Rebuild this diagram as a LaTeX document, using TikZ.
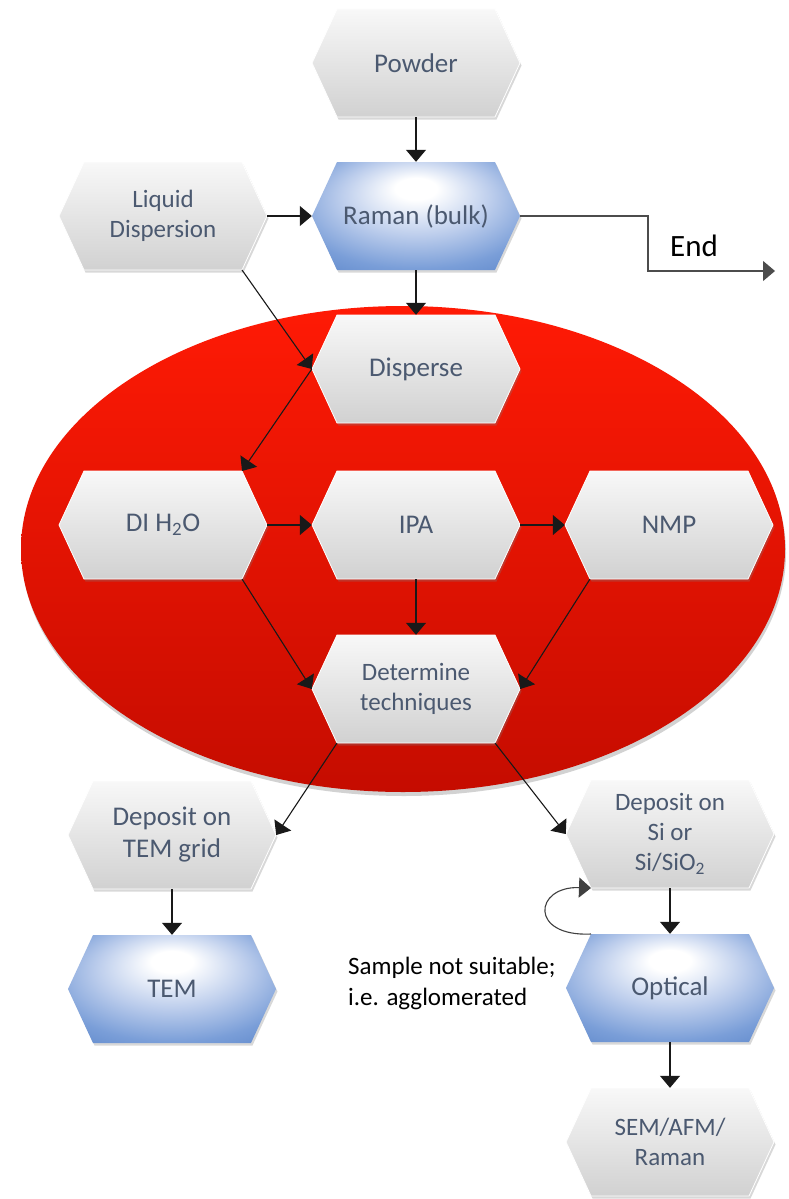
\documentclass[tikz,border=0pt]{standalone}
\usepackage{fontspec}
\setmainfont{Carlito}
\usetikzlibrary{arrows.meta,shadows,calc}

\definecolor{cGreyTop}{HTML}{F8F8F8}
\definecolor{cGreyBot}{HTML}{D1D1D1}
\definecolor{cBlue}{HTML}{5480C6}
\definecolor{cBlueMid}{HTML}{7A9ED8}
\definecolor{cBlueLight}{HTML}{BCCDEC}
\definecolor{cText}{HTML}{4B5970}
\definecolor{cRedTop}{HTML}{FF1A05}
\definecolor{cRedBot}{HTML}{C50C00}

% light spot near the top centre of the blue hexagons
\pgfdeclareradialshading{bluehex}{\pgfpoint{0bp}{14bp}}{%
  color(0bp)=(white); color(5bp)=(white); color(18bp)=(cBlueLight);
  color(30bp)=(cBlueMid); color(42bp)=(cBlue); color(50bp)=(cBlue)}

\tikzset{
  hexgrey/.style={top color=cGreyTop, bottom color=cGreyBot, draw=white, line width=0.8pt,
    drop shadow={opacity=0.3, shadow xshift=1.5pt, shadow yshift=-2.5pt}},
  hexblue/.style={shade, shading=bluehex,
    drop shadow={opacity=0.3, shadow xshift=1.5pt, shadow yshift=-2.5pt}},
  hextext/.style={minimum width=208pt, minimum height=108pt, inner sep=0pt, align=center,
    text=cText, font=\fontsize{27}{32}\selectfont},
  smalltext/.style={font=\fontsize{25}{30}\selectfont},
  conn/.style={draw=black!90, line width=1.1pt, -{Triangle[width=20pt,length=12pt]}},
}

% hexagon: name, centre x, centre y, fill style, text style, text
\newcommand{\hexshape}[6]{%
  \begin{scope}[shift={(#2,#3)}]
    \path[#4] (-104,0) -- (-79,-54) -- (79,-54) -- (104,0) -- (79,54) -- (-79,54) -- cycle;
    \node[hextext,#5] (#1) at (0,0) {#6};
    \coordinate (#1-nw) at (-79,-54);
    \coordinate (#1-ne) at (79,-54);
    \coordinate (#1-sw) at (-79,54);
    \coordinate (#1-se) at (79,54);
  \end{scope}}

\begin{document}
\begin{tikzpicture}[x=1pt,y=-1pt]
  \fill[white] (0,0) rectangle (789,1199);
  \useasboundingbox (0,0) rectangle (789,1199);

  % red region around the dispersion steps
  \path[top color=cRedTop, bottom color=cRedBot,
        drop shadow={opacity=0.35, shadow xshift=1pt, shadow yshift=-4pt}]
    (403,549) ellipse [x radius=382pt, y radius=243pt];

  \hexshape{powder}{416}{63}{hexgrey}{}{Powder}
  \hexshape{raman}{416}{216}{hexblue}{}{Raman (bulk)}
  \hexshape{liquid}{163}{216}{hexgrey}{smalltext}{Liquid\\Dispersion}
  \hexshape{disperse}{416}{369}{hexgrey}{}{Disperse}
  \hexshape{dih}{163}{525}{hexgrey}{}{DI H\textsubscript{2}O}
  \hexshape{ipa}{416}{525}{hexgrey}{}{IPA}
  \hexshape{nmp}{669}{525}{hexgrey}{}{NMP}
  \hexshape{det}{416}{689}{hexgrey}{smalltext}{Determine\\techniques}
  \hexshape{dtem}{172}{835}{hexgrey}{}{Deposit on\\TEM grid}
  \hexshape{tem}{172}{989}{hexblue}{}{TEM}
  \hexshape{dsi}{670}{834}{hexgrey}{smalltext}{Deposit on\\Si or\\Si/SiO\textsubscript{2}}
  \hexshape{optical}{670}{988}{hexblue}{}{Optical}
  \hexshape{sem}{670}{1142}{hexgrey}{smalltext}{SEM/AFM/\\Raman}

  \node[inner sep=0pt, font=\fontsize{31}{36}\selectfont] (endlabel) at (694,246) {End};
  \node[inner sep=0pt, anchor=north west, align=left, font=\fontsize{25}{31}\selectfont]
    (note) at (348,957) {Sample not suitable;\\i.e. agglomerated};

  \coordinate (endturn) at (648,271);
  \coordinate (endtip) at (775,271);

  % connectors
  \draw[conn] (powder) -- (raman);
  \draw[conn] (liquid) -- (raman);
  \draw[conn, draw=black!70] (raman.east) -| (endturn) -- (endtip);
  \draw[conn] (raman) -- (disperse);
  \draw[conn] (liquid-se) -- (disperse.west);
  \draw[conn] (disperse.west) -- (dih-ne);
  \draw[conn] (dih) -- (ipa);
  \draw[conn] (ipa) -- (nmp);
  \draw[conn] (ipa) -- (det);
  \draw[conn] (dih-se) -- (det.west);
  \draw[conn] (nmp-sw) -- (det.east);
  \draw[conn] (det-sw) -- (dtem.east);
  \draw[conn] (det-se) -- (dsi.west);
  \draw[conn] (dtem) -- (tem);
  \draw[conn] (dsi) -- (optical);
  \draw[conn, draw=black!75] (optical-nw) .. controls +(-62,3) and +(-57,-2) .. (dsi-sw);
  \draw[conn] (optical) -- (sem);
\end{tikzpicture}
\end{document}
